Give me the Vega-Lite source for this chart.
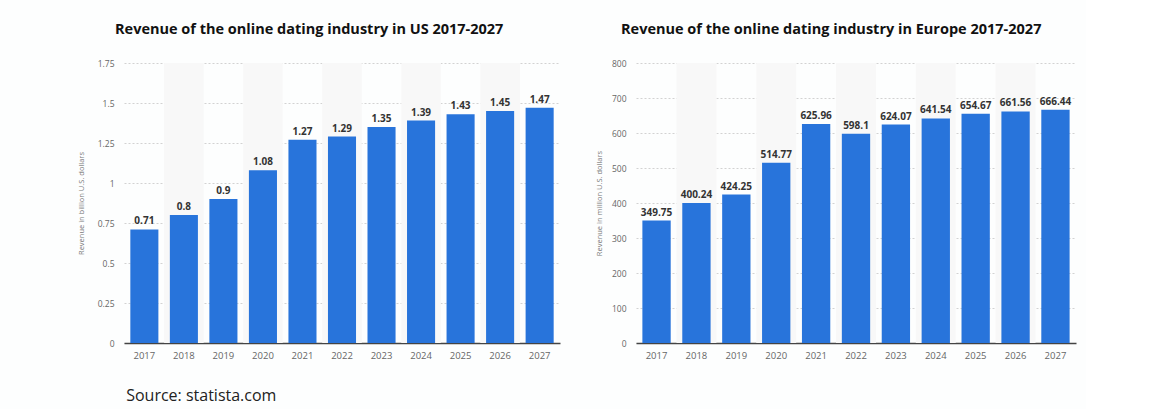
{
  "$schema": "https://vega.github.io/schema/vega-lite/v6.json",
  "background": "#fdfefe",
  "padding": {"left": 77, "top": 21, "right": 10, "bottom": 5},
  "bounds": "flush",
  "title": {"text": "Source: statista.com", "orient": "bottom", "anchor": "start", "font": "Open Sans", "fontSize": 16, "fontWeight": "normal", "color": "#222222", "offset": 28, "dx": 49},
  "datasets": {
    "us": [
      {"year": "2017", "revenue": 0.71, "shade": false},
      {"year": "2018", "revenue": 0.8, "shade": true},
      {"year": "2019", "revenue": 0.9, "shade": false},
      {"year": "2020", "revenue": 1.08, "shade": true},
      {"year": "2021", "revenue": 1.27, "shade": false},
      {"year": "2022", "revenue": 1.29, "shade": true},
      {"year": "2023", "revenue": 1.35, "shade": false},
      {"year": "2024", "revenue": 1.39, "shade": true},
      {"year": "2025", "revenue": 1.43, "shade": false},
      {"year": "2026", "revenue": 1.45, "shade": true},
      {"year": "2027", "revenue": 1.47, "shade": false}
    ],
    "eu": [
      {"year": "2017", "revenue": 349.75, "shade": false},
      {"year": "2018", "revenue": 400.24, "shade": true},
      {"year": "2019", "revenue": 424.25, "shade": false},
      {"year": "2020", "revenue": 514.77, "shade": true},
      {"year": "2021", "revenue": 625.96, "shade": false},
      {"year": "2022", "revenue": 598.1, "shade": true},
      {"year": "2023", "revenue": 624.07, "shade": false},
      {"year": "2024", "revenue": 641.54, "shade": true},
      {"year": "2025", "revenue": 654.67, "shade": false},
      {"year": "2026", "revenue": 661.56, "shade": true},
      {"year": "2027", "revenue": 666.44, "shade": false}
    ]
  },
  "spacing": 76,
  "hconcat": [
    {
      "width": 436,
      "height": 280,
      "data": {"name": "us"},
      "title": {"text": "Revenue of the online dating industry in US 2017-2027", "anchor": "start", "frame": "group", "dx": -9, "offset": 22},
      "encoding": {
        "x": {"field": "year", "type": "nominal", "scale": {"paddingInner": 0.29, "paddingOuter": 0.16}, "axis": {"title": null, "labelAngle": 0, "ticks": false, "domainColor": "#444444", "domainWidth": 1.5, "labelPadding": 7, "labelFontSize": 9.5}}
      },
      "layer": [
        {
          "transform": [{"filter": "datum.shade"}],
          "mark": {"type": "bar", "color": "#f8f8f8", "width": {"band": 1.41}},
          "encoding": {}
        },
        {
          "mark": {"type": "bar", "color": "#2874db"},
          "encoding": {
            "y": {"field": "revenue", "type": "quantitative", "scale": {"domain": [0, 1.75]}, "axis": {"title": "Revenue in billion U.S. dollars", "values": [0, 0.25, 0.5, 0.75, 1, 1.25, 1.5, 1.75], "labelExpr": "'' + datum.value", "labelOverlap": false, "titlePadding": 12}}
          }
        },
        {
          "mark": {"type": "text", "dy": -8, "fontWeight": "bold", "fontSize": 10, "color": "#333333", "font": "Open Sans"},
          "encoding": {
            "y": {"field": "revenue", "type": "quantitative", "scale": {"domain": [0, 1.75]}, "axis": {"title": "Revenue in billion U.S. dollars", "values": [0, 0.25, 0.5, 0.75, 1, 1.25, 1.5, 1.75], "labelExpr": "'' + datum.value", "labelOverlap": false, "titlePadding": 12}},
            "text": {"field": "revenue", "type": "nominal"}
          }
        }
      ]
    },
    {
      "width": 440,
      "height": 280,
      "data": {"name": "eu"},
      "title": {"text": "Revenue of the online dating industry in Europe 2017-2027", "anchor": "start", "frame": "group", "dx": -15, "offset": 22},
      "encoding": {
        "x": {"field": "year", "type": "nominal", "scale": {"paddingInner": 0.29, "paddingOuter": 0.16}, "axis": {"title": null, "labelAngle": 0, "ticks": false, "domainColor": "#444444", "domainWidth": 1.5, "labelPadding": 7, "labelFontSize": 9.5}}
      },
      "layer": [
        {
          "transform": [{"filter": "datum.shade"}],
          "mark": {"type": "bar", "color": "#f8f8f8", "width": {"band": 1.41}},
          "encoding": {}
        },
        {
          "mark": {"type": "bar", "color": "#2874db"},
          "encoding": {
            "y": {"field": "revenue", "type": "quantitative", "scale": {"domain": [0, 800]}, "axis": {"title": "Revenue in million U.S. dollars", "values": [0, 100, 200, 300, 400, 500, 600, 700, 800], "labelExpr": "'' + datum.value", "labelOverlap": false, "titlePadding": 8}}
          }
        },
        {
          "mark": {"type": "text", "dy": -8, "fontWeight": "bold", "fontSize": 10, "color": "#333333", "font": "Open Sans"},
          "encoding": {
            "y": {"field": "revenue", "type": "quantitative", "scale": {"domain": [0, 800]}, "axis": {"title": "Revenue in million U.S. dollars", "values": [0, 100, 200, 300, 400, 500, 600, 700, 800], "labelExpr": "'' + datum.value", "labelOverlap": false, "titlePadding": 8}},
            "text": {"field": "revenue", "type": "nominal"}
          }
        }
      ]
    }
  ],
  "config": {
    "view": {"stroke": null},
    "font": "Open Sans",
    "title": {"font": "Open Sans", "fontSize": 14.5, "fontWeight": "bold", "color": "#111111"},
    "axis": {"labelFont": "Open Sans", "labelColor": "#666666", "titleFont": "Open Sans", "titleColor": "#777777", "titleFontWeight": "normal", "titleFontSize": 7.5, "labelFontSize": 8.5},
    "axisY": {"domain": false, "ticks": false, "labelPadding": 10, "grid": true, "gridColor": "#d2d2d2", "gridDash": [2, 2], "gridWidth": 1, "zindex": 0}
  }
}
